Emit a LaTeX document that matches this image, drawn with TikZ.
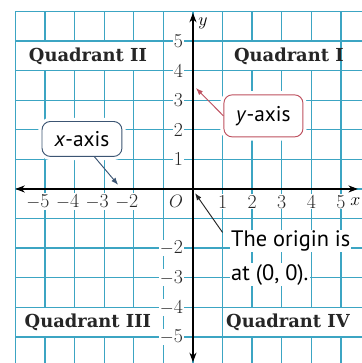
\documentclass[tikz,border=0pt]{standalone}
\usepackage{fontspec}
\newfontfamily\labfont{PT Sans}
\newfontfamily\qfont{DejaVu Serif}
\usetikzlibrary{arrows.meta}
\definecolor{gridc}{RGB}{60,165,195}
\definecolor{xcol}{RGB}{60,85,115}
\definecolor{ycol}{RGB}{190,80,95}
\begin{document}
\begin{tikzpicture}[
  gridline/.style={draw=gridc, line width=1.3pt},
  qlabel/.style={font=\qfont\bfseries\fontsize{17.2}{20}\selectfont, text=black!85, inner sep=0pt},
  num/.style={font=\fontsize{19}{22}\selectfont, fill=white, inner sep=1pt, text=black!85},
  callout/.style={rounded corners=8pt, fill=white, line width=0.9pt,
     font=\labfont\fontsize{20.5}{24}\selectfont, preaction={draw=white, line width=7pt}},
  origtext/.style={font=\labfont\fontsize{21.5}{24}\selectfont, fill=white, inner sep=1pt, anchor=west},
  axisline/.style={line width=1.1pt, {Stealth[length=3.2mm,width=2.4mm]}-{Stealth[length=3.2mm,width=2.4mm]}},
  pointer/.style={line width=0.9pt, -{Latex[length=2.4mm,width=1.8mm]}}
]
\useasboundingbox[fill=white] (-6.52,-5.88) rectangle (5.68,6.385);
% grid
\foreach \x in {-6,...,5} \draw[gridline] (\x,-5.9) -- (\x,6.0);
\foreach \y in {-5,...,6} \draw[gridline] (-6,\y) -- (5.7,\y);
% white rows behind quadrant names
\fill[white] (-5.97,4.03) rectangle (-1.03,4.97);
\fill[white] (1.03,4.03) rectangle (4.97,4.97);
\fill[white] (-5.97,-4.97) rectangle (-1.03,-4.03);
\fill[white] (1.03,-4.97) rectangle (5.7,-4.03);
\node[qlabel] (q2) at (-3.55,4.49) {Quadrant II};
\node[qlabel] (q1) at (3.24,4.49) {Quadrant I};
\node[qlabel] (q3) at (-3.55,-4.52) {Quadrant III};
\node[qlabel] (q4) at (3.21,-4.49) {Quadrant IV};
% y-axis numbers
\foreach \y in {1,...,5} \node[num, anchor=east] (ny\y) at (-0.3,\y) {\y};
\foreach \y in {2,...,5} \node[num, anchor=east] (nym\y) at (-0.3,-\y) {$-$\y};
% x-axis numbers
\foreach \x in {1,...,5} \node[num] (nx\x) at (\x,-0.43) {\x};
\foreach \x in {2,...,5} \node[num] (nxm\x) at (-\x,-0.43) {\llap{$-$}\x};
\node[num] (o) at (-0.57,-0.43) {$O$};
% axes
\coordinate (xl) at (-6.0,0);
\coordinate (xr) at (5.57,0);
\coordinate (yb) at (0,-5.85);
\coordinate (yt) at (0,5.95);
\draw[axisline] (xl) -- (xr);
\draw[axisline] (yb) -- (yt);
\node[font=\fontsize{19}{22}\selectfont, anchor=east, inner sep=0.5pt] (xlab) at (5.68,-0.43) {$x$};
\node[font=\fontsize{19}{22}\selectfont] (ylab) at (0.34,5.61) {$y$};
% callouts
\node[callout, draw=xcol, minimum width=2.7cm, minimum height=1.18cm] (xbox) at (-3.75,1.69) {\textit{x}-axis};
\node[callout, draw=ycol, minimum width=2.67cm, minimum height=1.42cm] (ybox) at (2.38,2.47) {\textit{y}-axis};
\node[origtext] (ot1) at (1.25,-1.76) {The origin is};
\node[origtext] (ot2) at (1.25,-2.9) {at (0, 0).};
\coordinate (xtip) at (-2.53,0.14);
\coordinate (ytip) at (0.1,3.41);
\coordinate (otip) at (0.07,-0.14);
\coordinate (ostart) at (1.0,-1.47);
\draw[pointer, draw=xcol] (xbox.-55) -- (xtip);
\draw[pointer, draw=ycol] (ybox.west) -- (ytip);
\draw[pointer, draw=black!85] (ostart) -- (otip);
\end{tikzpicture}
\end{document}
